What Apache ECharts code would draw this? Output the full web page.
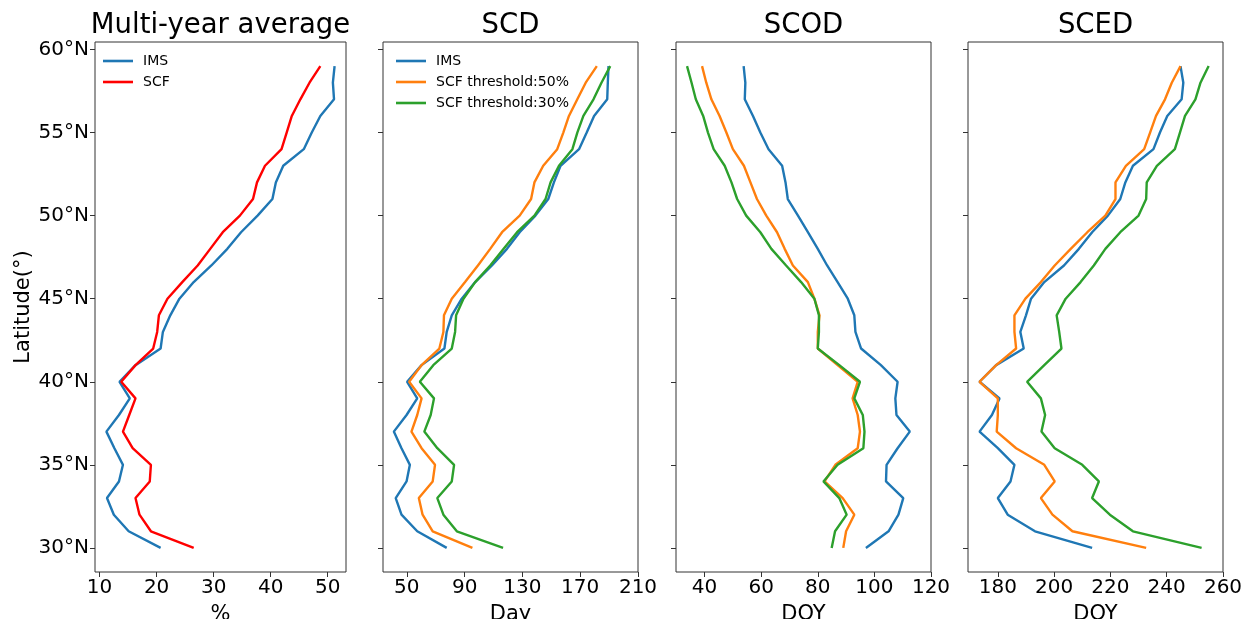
<!DOCTYPE html>
<html>
<head>
<meta charset="utf-8">
<script src="https://cdn.jsdelivr.net/npm/echarts@6.0.0/dist/echarts.min.js"></script>
<style>
    html, body { margin: 0; padding: 0; background: #fff; }
    #main { width: 1243px; height: 619px; }
</style>
</head>
<body>
<div id="main"></div>
<script>
// latitudes, south to north
var lats = [30, 31, 32, 33, 34, 35, 36, 37, 38, 39, 40, 41, 42, 43, 44,
            45, 46, 47, 48, 49, 50, 51, 52, 53, 54, 55, 56, 57, 58, 59];
var latTicks = [30, 35, 40, 45, 50, 55, 60];

// Multi-year average (%)
var avgIms = [20.7, 15.1, 12.5, 11.3, 13.4, 14.1, 12.6, 11.2, 13.4, 15.3, 13.5, 16.3, 20.7, 21.1, 22.4,
              24.0, 26.5, 29.6, 32.4, 34.8, 37.7, 40.3, 40.9, 42.2, 45.8, 47.2, 48.7, 51.1, 50.9, 51.2];
var avgScf = [26.5, 19.0, 17.0, 16.3, 18.8, 19.0, 15.8, 14.1, 15.2, 16.3, 13.8, 16.3, 19.4, 20.1, 20.4,
              21.9, 24.5, 27.2, 29.4, 31.6, 34.6, 36.9, 37.6, 39.0, 41.9, 42.8, 43.7, 45.2, 46.8, 48.7];

// SCD (Day)
var scdIms = [77.6, 57.2, 46.3, 42.3, 49.8, 52.1, 46.3, 41.0, 49.8, 57.2, 50.2, 60.2, 76.0, 77.6, 81.1,
              88.0, 97.3, 108.9, 119.3, 128.1, 139.0, 147.9, 151.8, 156.4, 169.2, 174.5, 179.6, 188.7, 189.1, 189.6];
var scd50 = [95.4, 67.9, 60.9, 58.3, 67.9, 69.5, 60.2, 53.2, 57.2, 60.2, 51.6, 60.2, 72.5, 75.3, 75.7,
             81.1, 90.3, 99.2, 107.7, 115.9, 128.1, 136.0, 138.3, 144.4, 154.1, 158.3, 162.2, 168.0, 173.8, 181.5];
var scd30 = [116.6, 84.6, 75.3, 71.1, 81.1, 82.7, 71.1, 62.1, 66.5, 68.8, 59.0, 68.3, 81.1, 83.4, 84.1,
             89.2, 97.3, 107.7, 117.0, 126.3, 138.3, 146.0, 149.5, 155.3, 164.6, 168.0, 172.2, 179.2, 184.7, 190.8];

// SCOD (DOY)
var scodIms = [97.0, 105.0, 108.5, 110.2, 104.1, 104.3, 108.2, 112.5, 107.8, 107.4, 108.2, 102.3, 95.3, 93.3, 92.9,
               90.6, 87.0, 83.3, 80.0, 76.5, 73.0, 69.4, 68.6, 67.4, 62.6, 59.7, 57.1, 54.2, 54.4, 53.8];
var scod50 = [89.0, 90.0, 92.9, 88.8, 82.4, 86.2, 94.1, 94.9, 94.1, 92.3, 94.1, 87.0, 80.0, 80.0, 80.6,
              78.8, 76.5, 71.2, 68.3, 65.6, 61.8, 58.5, 56.2, 53.9, 50.0, 47.7, 45.3, 42.4, 40.6, 39.1];
var scod30 = [84.9, 86.1, 90.2, 87.6, 82.0, 87.0, 96.1, 96.5, 95.9, 92.9, 94.9, 87.6, 80.0, 80.4, 80.4,
              78.8, 74.1, 68.8, 63.6, 59.7, 54.7, 51.5, 49.5, 47.1, 43.2, 41.2, 39.5, 36.9, 35.4, 33.8];

// SCED (DOY)
var scedIms = [213.5, 193.2, 183.5, 180.0, 184.5, 185.9, 180.0, 173.5, 177.9, 180.6, 173.5, 179.4, 189.2, 188.0, 190.0,
               191.8, 196.5, 203.5, 208.8, 213.5, 219.1, 223.5, 225.3, 228.0, 235.3, 237.6, 240.2, 245.3, 245.9, 244.9];
var sced50 = [232.7, 206.5, 199.4, 195.3, 200.2, 196.5, 186.5, 179.6, 180.0, 180.0, 173.5, 179.4, 186.5, 185.9, 185.9,
              189.8, 195.3, 200.2, 205.9, 211.8, 218.2, 221.8, 221.8, 225.5, 232.0, 234.1, 236.2, 239.4, 241.8, 244.9];
var sced30 = [252.4, 228.0, 219.8, 213.5, 215.9, 210.0, 200.2, 195.5, 196.8, 195.3, 190.4, 196.5, 202.6, 201.8, 200.9,
              204.1, 209.4, 214.1, 218.2, 223.5, 230.0, 232.7, 232.9, 236.5, 242.9, 244.7, 246.5, 250.2, 252.0, 254.9];

var ticksAvg = [10, 20, 30, 40, 50];
var ticksScd = [50, 90, 130, 170, 210];
var ticksScod = [40, 60, 80, 100, 120];
var ticksSced = [180, 200, 220, 240, 260];

var BLUE = '#1f77b4', ORANGE = '#ff7f0e', GREEN = '#2ca02c', RED = '#ff0000';
var FONT = 'DejaVu Sans';

var panels = [
    {title: 'Multi-year average', name: '%', left: 95, width: 251, min: 9.2, max: 53.2, ticks: ticksAvg},
    {title: 'SCD', name: 'Day', left: 383, width: 255, min: 33.5, max: 210, ticks: ticksScd},
    {title: 'SCOD', name: 'DOY', left: 676, width: 255, min: 29.9, max: 120, ticks: ticksScod},
    {title: 'SCED', name: 'DOY', left: 968, width: 255, min: 169.4, max: 260, ticks: ticksSced}
];

function pairs(vals) {
    return lats.map(function (y, i) { return [vals[i], y]; });
}

function line(name, vals, color, k) {
    return {
        name: name,
        type: 'line',
        xAxisIndex: k,
        yAxisIndex: k,
        data: pairs(vals),
        symbol: 'none',
        showSymbol: false,
        lineStyle: {width: 2.4, color: color},
        itemStyle: {color: color},
        silent: true
    };
}

function legendBox(names, left) {
    return {
        data: names,
        orient: 'vertical', left: left, top: 49,
        icon: 'rect', itemWidth: 30, itemHeight: 2.6, itemGap: 7,
        textStyle: {fontSize: 14, fontFamily: FONT, color: '#000', padding: [0, 0, 0, 5]},
        selectedMode: false
    };
}

var grids = [], xAxes = [], yAxes = [], graphics = [];
panels.forEach(function (p, k) {
    grids.push({
        left: p.left, top: 42, width: p.width, height: 530,
        show: true, borderColor: '#333', borderWidth: 1,
        outerBoundsMode: 'none'
    });
    xAxes.push({
        gridIndex: k, type: 'value', min: p.min, max: p.max,
        axisLine: {show: false},
        splitLine: {show: false},
        axisTick: {customValues: p.ticks, length: 5, lineStyle: {color: '#333'}},
        axisLabel: {customValues: p.ticks, fontSize: 20, color: '#000', fontFamily: FONT, margin: 6},
        name: p.name, nameLocation: 'middle', nameGap: 32,
        nameTextStyle: {fontSize: 21, color: '#000', fontFamily: FONT}
    });
    yAxes.push({
        gridIndex: k, type: 'value', min: 28.55, max: 60.45,
        axisLine: {show: false},
        splitLine: {show: false},
        axisTick: {customValues: latTicks, length: 5, lineStyle: {color: '#333'}},
        axisLabel: {
            show: k === 0, customValues: latTicks, fontSize: 20, color: '#000', fontFamily: FONT, margin: 6,
            formatter: function (v) { return v + '°N'; }
        },
        name: k === 0 ? 'Latitude(°)' : '', nameLocation: 'middle', nameGap: 61,
        nameTextStyle: {fontSize: 21, color: '#000', fontFamily: FONT}
    });
    graphics.push({
        type: 'text', x: p.left + p.width / 2, y: 26,
        style: {text: p.title, fontSize: 27.5, fontFamily: FONT, fill: '#000', textAlign: 'center', textVerticalAlign: 'middle'}
    });
});

var myChart = echarts.init(document.getElementById('main'));
var option = {
    animation: false,
    backgroundColor: '#fff',
    grid: grids,
    xAxis: xAxes,
    yAxis: yAxes,
    graphic: graphics,
    legend: [
        legendBox(['IMS', 'SCF'], 98),
        legendBox(['IMS', 'SCF threshold:50%', 'SCF threshold:30%'], 391)
    ],
    series: [
        line('IMS', avgIms, BLUE, 0),
        line('SCF', avgScf, RED, 0),
        line('IMS', scdIms, BLUE, 1),
        line('SCF threshold:50%', scd50, ORANGE, 1),
        line('SCF threshold:30%', scd30, GREEN, 1),
        line('IMS', scodIms, BLUE, 2),
        line('SCF threshold:50%', scod50, ORANGE, 2),
        line('SCF threshold:30%', scod30, GREEN, 2),
        line('IMS', scedIms, BLUE, 3),
        line('SCF threshold:50%', sced50, ORANGE, 3),
        line('SCF threshold:30%', sced30, GREEN, 3)
    ]
};
myChart.setOption(option);
</script>
</body>
</html>
